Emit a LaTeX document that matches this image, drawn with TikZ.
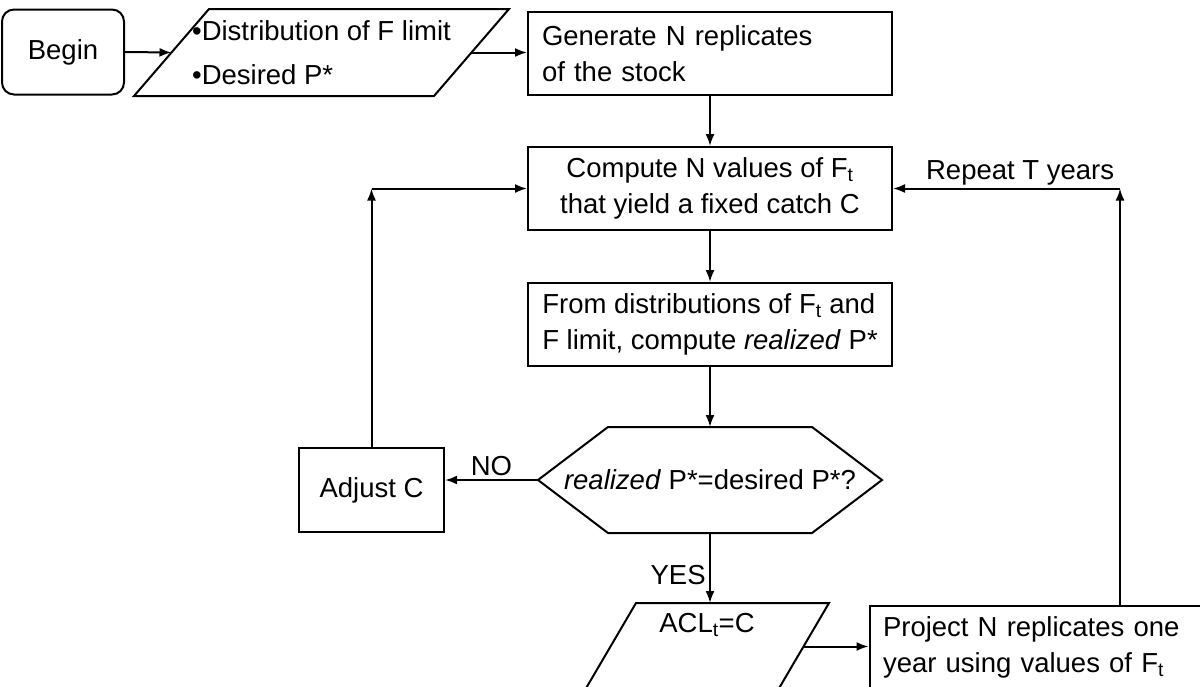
\documentclass[tikz,border=0pt]{standalone}
\usepackage{fontspec}
\setmainfont{Liberation Sans}
\usepackage{tikz}
\usetikzlibrary{arrows.meta, positioning, calc}

% frames drawn round a named node
\newcommand{\slantframe}[2]{\draw ($(#1.south west)+(-#2,0)$) -- ($(#1.north west)+(#2,0)$) -- ($(#1.north east)+(#2,0)$) -- ($(#1.south east)+(-#2,0)$) -- cycle;}
\newcommand{\hexframe}[2]{\draw (#1.west) -- ($(#1.north west)+(#2,0)$) -- ($(#1.north east)+(-#2,0)$) -- (#1.east) -- ($(#1.south east)+(-#2,0)$) -- ($(#1.south west)+(#2,0)$) -- cycle;}

\begin{document}
\begin{tikzpicture}[x=1pt, y=-1pt, line width=2pt, >={Latex[length=12pt, width=9pt]},
        every node/.style={font=\fontsize{27.5}{36}\selectfont},
        box/.style={draw, rectangle, minimum width=364pt, minimum height=83pt, inner sep=0pt},
        plain/.style={rectangle, inner sep=0pt}]
        \useasboundingbox (0,0) rectangle (1200,686);
        \clip (0,0) rectangle (1200,686);

        % Start and inputs
        \node[draw, rounded corners=12pt, minimum width=122pt, minimum height=85pt] (begin) at (63,52) {Begin};
        \node[plain, minimum width=298pt, minimum height=85pt, align=left, font=\fontsize{27.5}{44}\selectfont] (input) at (321.5,52.5) {•Distribution of F limit\\ •Desired P*};
        \slantframe{input}{37.5}
        \node[box, text width=336pt, align=left] (generate) at (710,53.5) {Generate N replicates\\ of the stock};

        % Main column
        \node[box, align=center] (compute) at (710,188.5) {Compute N values of F\textsubscript{t}\\ that yield a fixed catch C};
        \node[box, align=left] (from) at (710,324.5) {From distributions of F\textsubscript{t} and\\ F limit, compute \textit{realized} P*};
        \node[plain, minimum width=342pt, minimum height=104pt] (decide) at (710,480) {\textit{realized} P*=desired P*?};
        \hexframe{decide}{70}
        \node[plain, minimum width=191pt, minimum height=85pt, align=center] (acl) at (707,646.5) {ACL\textsubscript{t}=C\\ \strut};
        \slantframe{acl}{25.5}

        % Side boxes
        \node[draw, minimum width=145pt, minimum height=84pt] (adjust) at (371.5,490) {Adjust C};
        \node[box, text width=337pt, align=left] (project) at (1051.5,647.5) {Project N replicates one\\ year using values of F\textsubscript{t}};

        % Arrows
        \draw[->] (begin.east) -- (input.west);
        \draw[->] (input.east) -- (input.east -| generate.west);
        \draw[->] (generate) -- (compute);
        \draw[->] (compute) -- (from);
        \draw[->] (from) -- (decide);
        \draw[->] (decide.west) -- (decide.west -| adjust.east) node[midway, above] {NO};
        \draw[->] (decide.south) -- (decide.south |- acl.north) node[pos=0.6, left] {YES};
        \draw[->] (acl.east) -- (acl.east -| project.west);

        % Loops back to the top
        \coordinate (upL) at (adjust.north |- compute.west);
        \draw[->] (adjust.north) -- (upL);
        \draw[->] (upL) -- (compute.west);
        \coordinate (upR) at (1120,0 |- compute.east);
        \draw[->] (upR |- project.north) -- (upR);
        \draw[->] (upR) -- (compute.east) node[pos=0.44, above, inner sep=2pt] {Repeat T years};
    \end{tikzpicture}
\end{document}
